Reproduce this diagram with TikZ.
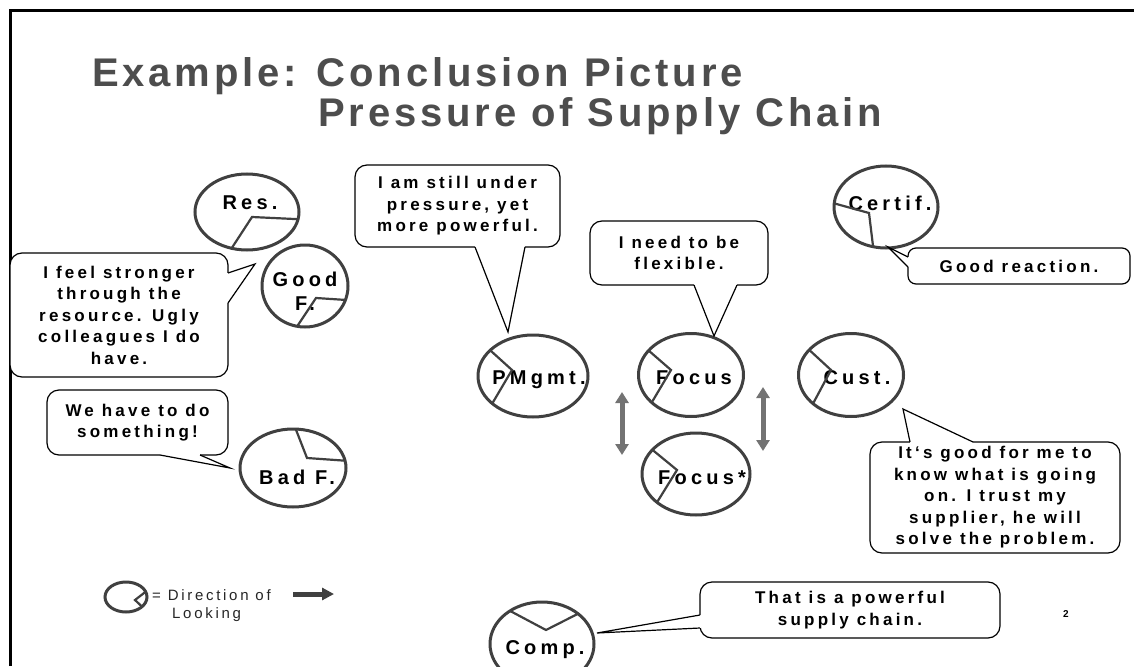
\documentclass[tikz,border=0pt]{standalone}
\usepackage{fontspec}
\setmainfont{Liberation Sans}
\newfontfamily\ttlfont[LetterSpace=9.6]{Liberation Sans}
\newfontfamily\bubfont[LetterSpace=19]{Liberation Sans}
\newfontfamily\perfont[LetterSpace=21]{Liberation Sans}
\newfontfamily\legfont[LetterSpace=18]{Liberation Sans}
\usetikzlibrary{shapes.geometric,calc,arrows.meta}
\definecolor{eg}{HTML}{404040}
\definecolor{tg}{HTML}{4D4D4D}
\definecolor{ag}{HTML}{737373}
\newcommand\mytail[3]{\draw[white,line width=2.4] #1 -- #3; \fill[white] #1 -- #2 -- #3 -- cycle; \draw[bubl] #1 -- #2 -- #3;}
\begin{document}
\begin{tikzpicture}[x=1pt,y=-1pt,
  bub/.style={draw=black, line width=1.2, fill=white, rounded corners=12, outer sep=0, inner sep=0, align=center,
    font=\bubfont\bfseries\fontsize{17}{21.5}\selectfont},
  bubl/.style={draw=black, line width=1.2, line join=miter},
  pers/.style={ellipse, draw=eg, line width=3, outer sep=0, inner sep=0},
  ptxt/.style={font=\perfont\bfseries\fontsize{20}{24}\selectfont, inner sep=0, align=center, anchor=base},
  dirl/.style={eg, line width=2.2},
  ttl/.style={anchor=base west, inner sep=0, text=tg, font=\ttlfont\bfseries\fontsize{40}{48}\selectfont},
  dbl/.style={ag, line width=5, {Triangle[width=13pt,length=11pt]}-{Triangle[width=13pt,length=11pt]}}
]
\useasboundingbox (0,0) rectangle (1134,666);
\fill[white] (0,0) rectangle (1134,666);
\draw[line width=3] (10,666) -- (10,11) -- (1134,11);

% title
\node[ttl] (t1) at (92,87) {Example: Conclusion Picture};
\node[ttl] (t2) at (318,127) {Pressure of Supply Chain};

% persons
\node[pers, minimum width=104, minimum height=76] (res) at (247,212) {};
\node[ptxt] (resT) at (250,209) {Res.};
\draw[dirl] (res.-113) -- ($(res)+(5,5)$) -- (res.-8);

\node[pers, minimum width=86, minimum height=82] (good) at (305,286) {};
\node[ptxt, anchor=center] (goodT) at (305,291) {Good\\F.};
\draw[dirl] (good.-101) -- ($(good)+(11,12)$) -- (good.-19);

\node[pers, minimum width=106, minimum height=78] (bad) at (293,468) {};
\node[ptxt] (badT) at (297,484) {Bad F.};
\draw[dirl] (bad.86) -- ($(bad)+(14,-10)$) -- (bad.8);

\node[pers, minimum width=110, minimum height=82] (pmg) at (533,376) {};
\node[ptxt] (pmgT) at (539,384) {PMgmt.};
\draw[dirl] (pmg.149) -- ($(pmg)+(-21,-6)$) -- (pmg.-146);

\node[pers, minimum width=105, minimum height=83] (foc) at (691,375) {};
\node[ptxt] (focT) at (694,384) {Focus};
\draw[dirl] (foc.150) -- ($(foc)+(-20,-5)$) -- (foc.-145);

\node[pers, minimum width=105, minimum height=83] (cus) at (851,375) {};
\node[ptxt] (cusT) at (857,384) {Cust.};
\draw[dirl] (cus.149) -- ($(cus)+(-20,-5)$) -- (cus.-143);

\node[pers, minimum width=104, minimum height=82] (cer) at (886,207) {};
\node[ptxt] (cerT) at (890,210) {Certif.};
\draw[dirl] (cer.176) -- ($(cer)+(-17,6)$) -- (cer.-108);

\node[pers, minimum width=108, minimum height=82] (foc2) at (696,474) {};
\node[ptxt] (foc2T) at (702,484) {Focus*};
\draw[dirl] (foc2.151) -- ($(foc2)+(-19,-4)$) -- (foc2.-144);

\node[pers, minimum width=104, minimum height=84] (cmp) at (542,644) {};
\node[ptxt] (cmpT) at (545,654) {Comp.};
\draw[dirl] (cmp.134) -- ($(cmp)+(4,-14)$) -- (cmp.40);

% arrows between Focus and Focus*
\coordinate (a1t) at (622,392); \coordinate (a1b) at (622,455);
\coordinate (a2t) at (763,387); \coordinate (a2b) at (763,451);
\draw[dbl] (a1t) -- (a1b);
\draw[dbl] (a2t) -- (a2b);

% speech bubbles
\node[bub, minimum width=218, minimum height=124] (feel) at (119,315)
  {I feel stronger\\through the\\resource. Ugly\\colleagues I do\\have.};
\coordinate (tfeel) at (255,264);
\mytail{($(feel.north east)+(0,20)$)}{(tfeel)}{($(feel.north east)+(0,50)$)}

\node[bub, minimum width=181, minimum height=65] (we) at (137.5,422.5)
  {We have to do\\something!};
\coordinate (twe) at (230,468);
\mytail{($(we.south west)+(113,0)$)}{(twe)}{($(we.south west)+(153,0)$)}

\node[bub, minimum width=205, minimum height=82] (pm) at (457.5,206)
  {I am still under\\pressure, yet\\more powerful.};
\coordinate (tpm) at (508,332);
\mytail{($(pm.south west)+(120,0)$)}{(tpm)}{($(pm.south west)+(170,0)$)}

\node[bub, minimum width=178, minimum height=64] (flex) at (679,253)
  {I need to be\\flexible.};
\coordinate (tflex) at (714,336);
\mytail{($(flex.south west)+(104,0)$)}{(tflex)}{($(flex.south west)+(147,0)$)}

\node[bub, rounded corners=8, minimum width=222, minimum height=36] (gr) at (1019,266)
  {Good reaction.};
\coordinate (tgr) at (888,247);
\mytail{($(gr.north west)+(0,9)$)}{(tgr)}{($(gr.north west)+(0,19)$)}

\node[bub, minimum width=250, minimum height=111] (cu) at (995,497.5)
  {It‘s good for me to\\know what is going\\on. I trust my\\supplier, he will\\solve the problem.};
\coordinate (tcu) at (903,409);
\mytail{($(cu.north west)+(40,0)$)}{(tcu)}{($(cu.north west)+(103,0)$)}

\node[bub, minimum width=300, minimum height=56] (sc) at (850,610)
  {That is a powerful\\supply chain.};
\coordinate (tsc) at (597,633);
\mytail{($(sc.north west)+(0,33)$)}{(tsc)}{($(sc.north west)+(0,46)$)}

% legend
\node[pers, minimum width=42, minimum height=30] (leg) at (126,597) {};
\draw[dirl] (leg.15) -- ($(leg)+(9,3)$) -- (leg.-31);
\node[anchor=base west, inner sep=0, text=black!85, font=\legfont\fontsize{15}{18}\selectfont] (legT) at (152,600) {= Direction of};
\node[anchor=base west, inner sep=0, text=black!85, font=\legfont\fontsize{15}{18}\selectfont] (legT2) at (172,618) {Looking};
\coordinate (la1) at (293,594); \coordinate (la2) at (334,594);
\draw[eg, line width=5, -{Triangle[width=12pt,length=12pt]}] (la1) -- (la2);

% page number
\node[inner sep=0, font=\bfseries\fontsize{10}{12}\selectfont] (pg) at (1066,614) {2};
\end{tikzpicture}
\end{document}
